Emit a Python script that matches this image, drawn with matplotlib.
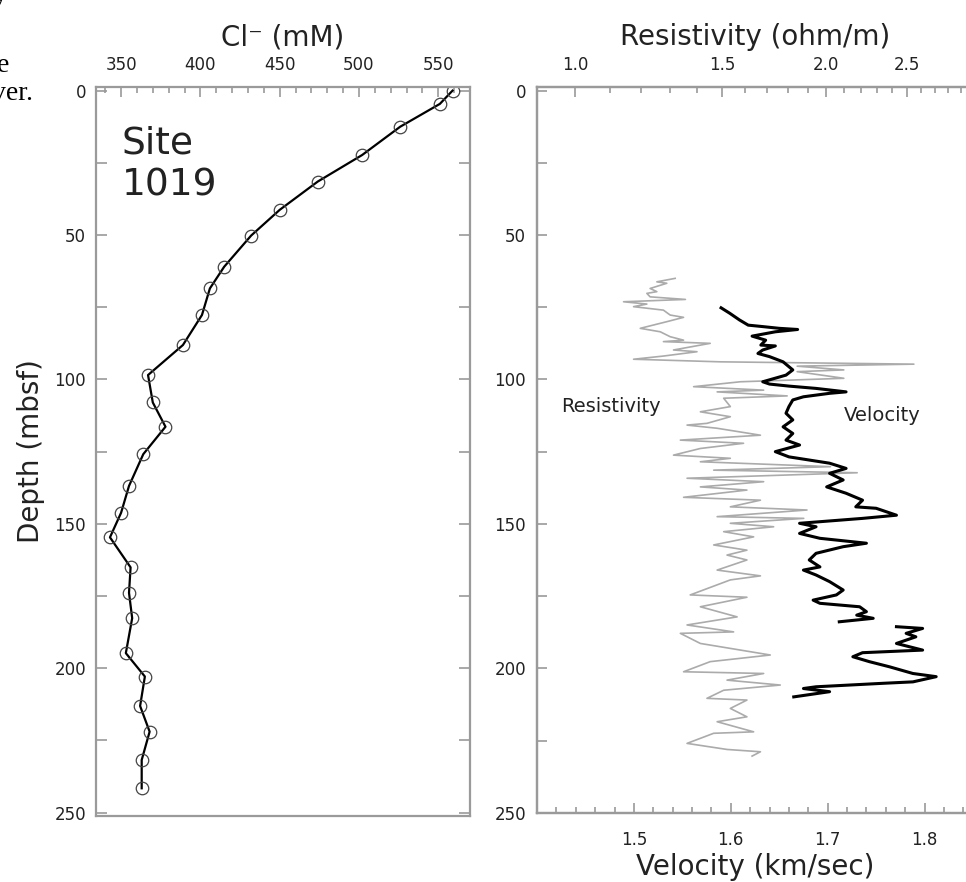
import matplotlib.pyplot as plt
import numpy as np
from matplotlib.ticker import MultipleLocator, FixedLocator, FixedFormatter, NullFormatter

# Pore-water chloride, Site 1019
cl_depth = [0.0, 4.6, 12.5, 22.3, 31.5, 41.3, 50.2, 61.0, 68.5, 77.7, 88.1, 98.5,
            108.0, 116.4, 125.9, 136.9, 146.2, 154.7, 165.1, 173.9, 182.7, 194.8,
            202.9, 213.1, 222.0, 231.8, 241.6]
cl_conc = [559, 551, 526, 502, 474, 450, 432, 415, 406, 401, 389, 367,
           370, 378, 364, 355, 350, 343, 356, 355, 357, 353,
           365, 362, 368, 363, 363]

# Downhole logs
vel_depth = [75.2, 77.1, 79.4, 81.2, 81.7, 82.3, 82.7, 83.5, 85.0, 86.4, 88.1, 88.4,
             89.8, 91.0, 92.1, 93.9, 96.7, 98.5, 100.8, 101.6, 102.3, 103.1, 104.3,
             104.8, 106.0, 107.1, 109.4, 111.7, 114.0, 116.4, 118.7, 121.0, 122.7,
             125.0, 126.8, 127.9, 129.0, 130.8, 132.5, 134.8, 137.2, 139.4, 141.8,
             144.1, 144.6, 147.0, 148.1, 149.8, 151.0, 153.3, 155.0, 156.7, 157.9,
             160.2, 162.5, 164.9, 166.0, 167.7, 170.0, 172.9, 174.6, 176.4, 177.5,
             178.7, 180.4, 181.6, 182.7, 183.9, np.nan, 185.6, 186.2, 187.9, 189.1,
             191.4, 193.7, 194.6, 196.0, 197.7, 199.5, 201.8, 202.9, 204.7, 205.2,
             206.4, 207.0, 208.1, 209.9]
velocity = [1.590, 1.599, 1.609, 1.618, 1.633, 1.650, 1.669, 1.646, 1.622, 1.636, 1.631, 1.646,
            1.633, 1.628, 1.640, 1.654, 1.664, 1.657, 1.633, 1.640, 1.660, 1.688, 1.719,
            1.702, 1.675, 1.664, 1.660, 1.657, 1.664, 1.654, 1.664, 1.657, 1.671,
            1.646, 1.660, 1.681, 1.702, 1.719, 1.702, 1.716, 1.699, 1.719, 1.736,
            1.729, 1.750, 1.771, 1.736, 1.671, 1.688, 1.671, 1.692, 1.740, 1.716,
            1.688, 1.681, 1.692, 1.675, 1.688, 1.702, 1.716, 1.709, 1.685, 1.692,
            1.733, 1.740, 1.730, 1.747, 1.712, np.nan, 1.771, 1.798, 1.781, 1.791,
            1.771, 1.798, 1.736, 1.726, 1.743, 1.764, 1.788, 1.812, 1.788, 1.757,
            1.688, 1.675, 1.702, 1.665]

res_depth = [65.0, 66.2, 66.7, 68.5, 69.6, 70.2, 71.4, 72.3, 73.1, 73.9, 74.8, 76.0,
             77.7, 78.5, 80.0, 82.3, 83.5, 85.2, 86.4, 86.9, 87.5, 89.8, 90.4, 91.9,
             93.0, 93.9, 94.7, 95.4, 96.7, 97.3, 99.6, 100.8, 102.5, 103.7, 104.3,
             105.7, 106.5, 109.4, 111.2, 112.9, 115.2, 115.8, 116.9, 119.3, 121.0,
             122.1, 123.9, 126.2, 127.3, 128.5, 130.2, 131.4, 132.3, 134.2, 135.4,
             137.2, 138.3, 140.8, 141.8, 144.1, 145.2, 147.5, 148.1, 149.8, 151.0,
             152.7, 154.5, 157.3, 159.1, 160.8, 162.5, 166.0, 168.0, 169.4, 174.6,
             175.4, 178.7, 182.2, 185.0, 187.4, 187.9, 191.4, 195.4, 197.7, 201.2,
             201.8, 204.1, 205.8, 207.6, 210.4, 211.0, 213.9, 216.8, 218.5, 222.0,
             222.5, 226.0, 228.1, 228.9, 230.4]
resistivity = [1.318, 1.253, 1.288, 1.230, 1.253, 1.219, 1.230, 1.356, 1.143, 1.219, 1.175, 1.276,
               1.300, 1.349, 1.288, 1.197, 1.265, 1.300, 1.349, 1.276, 1.452, 1.312, 1.400, 1.276,
               1.175, 1.494, 2.548, 1.846, 2.100, 1.846, 2.100, 1.578, 1.387, 1.683, 1.480,
               1.796, 1.507, 1.535, 1.413, 1.535, 1.439, 1.362, 1.480, 1.668, 1.337,
               1.592, 1.413, 1.312, 1.535, 1.413, 2.024, 1.466, 2.179, 1.362, 1.683,
               1.413, 1.607, 1.349, 1.668, 1.535, 1.897, 1.480, 1.880, 1.535, 1.730,
               1.507, 1.637, 1.466, 1.607, 1.521, 1.607, 1.480, 1.668, 1.535, 1.374,
               1.607, 1.413, 1.564, 1.362, 1.549, 1.337, 1.413, 1.714, 1.452, 1.349,
               1.683, 1.521, 1.762, 1.507, 1.439, 1.607, 1.535, 1.607, 1.480, 1.637,
               1.466, 1.362, 1.521, 1.668, 1.630]

res_major = [1.0, 1.5, 2.0, 2.5]
res_minor = [0.9, 1.1, 1.2, 1.3, 1.4, 1.6, 1.7, 1.8, 1.9, 2.1, 2.2, 2.3, 2.4,
             2.6, 2.7, 2.8, 2.9]
vel_major = [1.5, 1.6, 1.7, 1.8]

grey = '#9a9a9a'
txt = '#222222'

fig = plt.figure(figsize=(9.66, 8.82), dpi=100)

# ---- left panel: chloride ----
ax1 = fig.add_axes([95.7 / 966, 1 - 816 / 882, 374.3 / 966, 729 / 882])
ax1.plot(cl_conc, cl_depth, color='black', lw=1.6, marker='o', ms=9,
         mfc='none', mec='#444444', mew=0.9)
ax1.set_xlim(334, 570)
ax1.set_ylim(251.2, -1.25)
ax1.xaxis.tick_top()
ax1.xaxis.set_label_position('top')
ax1.xaxis.set_major_locator(MultipleLocator(50))
ax1.xaxis.set_minor_locator(MultipleLocator(10))
ax1.yaxis.set_major_locator(MultipleLocator(50))
ax1.yaxis.set_minor_locator(MultipleLocator(25))
ax1.tick_params(which='both', direction='in', color=grey, width=1.2,
                labelcolor=txt, labelsize=12)
ax1.tick_params(axis='x', which='major', length=7, pad=9)
ax1.tick_params(axis='x', which='minor', length=4)
ax1.tick_params(axis='y', which='both', length=8, left=True, right=True, pad=7)
ax1.set_xlabel('Cl\u207b (mM)', fontsize=20, color=txt, labelpad=8)
ax1.set_ylabel('Depth (mbsf)', fontsize=20, color=txt, labelpad=7)
for s in ax1.spines.values():
    s.set_color(grey)
    s.set_linewidth(1.6)
ax1.text(0.07, 0.947, 'Site\n1019', transform=ax1.transAxes, fontsize=27,
         va='top', ha='left', color=txt)

# ---- right panel: logs ----
ax2 = fig.add_axes([537 / 966, 1 - 813 / 882, 436 / 966, 726 / 882])
ax2.plot(velocity, vel_depth, color='black', lw=2.2)
ax2.set_xlim(1.4, 1.85)
ax2.set_ylim(250.1, -1.25)
ax2.xaxis.set_major_locator(FixedLocator(vel_major))
ax2.xaxis.set_major_formatter(FixedFormatter(['%.1f' % v for v in vel_major]))
ax2.xaxis.set_minor_locator(MultipleLocator(0.02))
ax2.yaxis.set_major_locator(MultipleLocator(50))
ax2.yaxis.set_minor_locator(MultipleLocator(25))
ax2.tick_params(which='both', direction='in', color=grey, width=1.2,
                labelcolor=txt, labelsize=12)
ax2.tick_params(axis='x', which='major', length=7, pad=13, top=False)
ax2.tick_params(axis='x', which='minor', length=4, top=False)
ax2.tick_params(axis='y', which='both', length=7, pad=8)
ax2.set_xlabel('Velocity (km/sec)', fontsize=20, color=txt, labelpad=3)
for s in ax2.spines.values():
    s.set_color(grey)
    s.set_linewidth(1.6)

ax3 = ax2.twiny()
ax3.set_xscale('log')
ax3.plot(resistivity, res_depth, color='#ababab', lw=1.2)
ax3.set_xlim(0.9, 3.0)
ax3.xaxis.set_major_locator(FixedLocator(res_major))
ax3.xaxis.set_major_formatter(FixedFormatter(['%.1f' % v for v in res_major]))
ax3.xaxis.set_minor_locator(FixedLocator(res_minor))
ax3.xaxis.set_minor_formatter(NullFormatter())
ax3.tick_params(which='both', direction='in', color=grey, width=1.2,
                labelcolor=txt, labelsize=12)
ax3.tick_params(axis='x', which='major', length=7, pad=9)
ax3.tick_params(axis='x', which='minor', length=4)
ax3.set_xlabel('Resistivity (ohm/m)', fontsize=20, color=txt, labelpad=8)
for s in ax3.spines.values():
    s.set_color(grey)
    s.set_linewidth(1.6)
ax3.set_zorder(ax2.get_zorder() - 1)
ax2.patch.set_visible(False)

ax2.text(0.17, 0.5597, 'Resistivity', transform=ax2.transAxes, fontsize=14,
         ha='center', va='center', color=txt)
ax2.text(0.792, 0.547, 'Velocity', transform=ax2.transAxes, fontsize=14,
         ha='center', va='center', color=txt)

# cut-off caption fragments at the page edge, as in the source scan
serif = ['Liberation Serif', 'DejaVu Serif']
fig.text(8 / 966, 1 - 1 / 882, 'y', ha='right', va='baseline', family=serif, fontsize=20)
fig.text(9 / 966, 1 - 72 / 882, 'e', ha='right', va='baseline', family=serif, fontsize=20)
fig.text(33 / 966, 1 - 100 / 882, 'ver.', ha='right', va='baseline', family=serif, fontsize=20)

fig.savefig('out.png', dpi=100)
